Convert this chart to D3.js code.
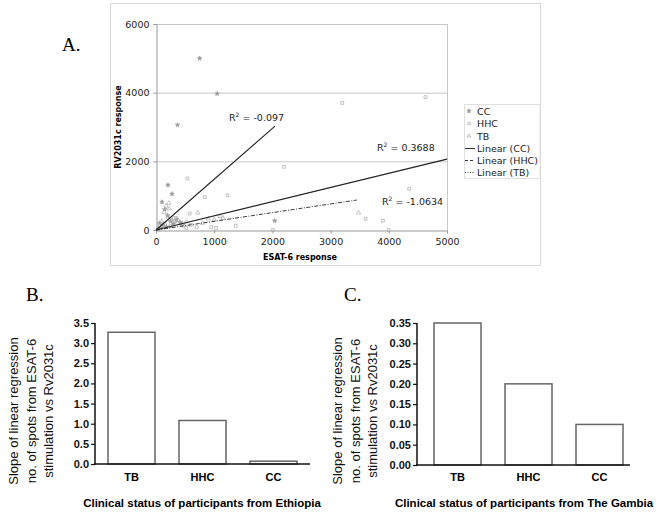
<!DOCTYPE html>
<html><head><meta charset="utf-8">
<script src="https://cdn.jsdelivr.net/npm/d3@7"></script>
<style>body{margin:0;background:#fff}svg{display:block}</style>
</head><body>
<svg id="c" width="664" height="514"></svg>
<script>
// ---------- Panel A data ----------
const ccPoints = [[750,5000],[1050,3970],[370,3060],[2040,270],[206,1310],[275,1050],[103,815],[150,600],[200,420],[60,200],[120,150],[250,250],[300,180],[80,60],[180,90],[350,300],[40,30],[420,220]];
const hhcPoints = [[3200,3700],[4630,3870],[4350,1200],[3600,330],[3900,270],[2200,1840],[540,1500],[840,960],[1230,1010],[1370,120],[1030,60],[950,80],[580,480],[200,390],[260,300],[330,250],[420,200],[150,180],[480,120],[100,100],[600,150],[700,80],[250,120],[350,350],[520,60],[2010,0],[4000,0]];
const tbPoints = [[720,500],[3480,500],[170,700],[220,780],[140,520],[230,620],[300,340],[380,280],[450,170],[100,250],[60,120],[520,240],[900,330],[1100,400],[1150,350],[1000,300],[800,200]];
const trendNames = ["Linear (CC)","Linear (HHC)","Linear (TB)"];
const trendSlopes = [1.48, 0.413, 0.253];
const trendXEnd = [2045, 5000, 3450];
const trendR2 = ["-0.097","0.3688","-1.0634"];
const xTicksA = [0,1000,2000,3000,4000,5000];
const yTicksA = [0,2000,4000,6000];
const legendSeries = ["CC","HHC","TB"];

// ---------- Panels B / C data ----------
const groups = ["TB","HHC","CC"];
const ethiopiaSlopes = [3.27, 1.08, 0.07];
const gambiaSlopes = [0.35, 0.20, 0.10];
const ethiopiaTicks = [0,0.5,1.0,1.5,2.0,2.5,3.0,3.5];
const gambiaTicks = [0,0.05,0.10,0.15,0.20,0.25,0.30,0.35];

const svg = d3.select("#c");

// ================= Panel A =================
const A = svg.append("g");
A.append("rect").attr("x",110.5).attr("y",3.5).attr("width",430).attr("height",262)
  .attr("fill","none").attr("stroke","#d9d9d9");
A.append("text").attr("x",62).attr("y",51).attr("font-family","Liberation Serif, serif")
  .attr("font-size",19).text("A.");

const xA = d3.scaleLinear().domain([0,5000]).range([156,447]);
const yA = d3.scaleLinear().domain([0,6000]).range([230,24]);
const fA = "DejaVu Sans, Verdana, sans-serif";

// gridlines
A.append("g").selectAll("line").data(yTicksA.filter(d=>d>0)).join("line")
  .attr("x1",xA(0)).attr("x2",xA(5000)).attr("y1",d=>yA(d)+0.5).attr("y2",d=>yA(d)+0.5)
  .attr("stroke","#c8c8c8");
A.append("line").attr("x1",xA(5000)+0.5).attr("x2",xA(5000)+0.5).attr("y1",yA(6000)).attr("y2",yA(0))
  .attr("stroke","#c8c8c8");

const axB = A.append("g").attr("transform",`translate(0,${yA(0)+0.5})`)
  .call(d3.axisBottom(xA).tickValues(xTicksA).tickSize(3).tickPadding(5).tickFormat(d3.format("d")));
const axL = A.append("g").attr("transform",`translate(${xA(0)+0.5},0)`)
  .call(d3.axisLeft(yA).tickValues(yTicksA).tickSize(3).tickPadding(4).tickFormat(d3.format("d")));
[axB,axL].forEach(g=>{
  g.selectAll("path,line").attr("stroke","#999");
  g.selectAll("text").attr("font-family",fA).attr("font-size",9.5).attr("fill","#222");
});

A.append("text").attr("transform",`translate(121,127) rotate(-90)`).attr("text-anchor","middle")
  .attr("font-family",fA).attr("font-size",8).attr("font-weight","bold").text("RV2031c response");
A.append("text").attr("x",300).attr("y",260).attr("text-anchor","middle")
  .attr("font-family",fA).attr("font-size",8).attr("font-weight","bold").text("ESAT-6 response");

// points
const sym = [d3.symbolStar, d3.symbolSquare, d3.symbolTriangle];
const symSize = [6, 8, 8];
const symFill = ["#999","none","none"];
const symStroke = ["#999","#aaa","#aaa"];
[ccPoints,hhcPoints,tbPoints].forEach((pts,i)=>{
  A.append("g").selectAll("path").data(pts).join("path")
    .attr("d",d3.symbol().type(sym[i]).size(symSize[i]))
    .attr("transform",d=>`translate(${xA(d[0])},${yA(d[1])})`)
    .attr("fill",symFill[i]).attr("stroke",symStroke[i]).attr("stroke-width",0.7);
});

// trend lines
const trendDash = [null, null, "4,1.5,1,1.5"];
const trendWidth = [1.1, 1.1, 0.9];
trendSlopes.forEach((s,i)=>{
  A.append("line").attr("x1",xA(0)).attr("y1",yA(0)).attr("x2",xA(trendXEnd[i])).attr("y2",yA(s*trendXEnd[i]))
    .attr("stroke","#222").attr("stroke-width",trendWidth[i]).attr("stroke-dasharray",trendDash[i]);
});
// R2 labels
const r2Pos = [[229,121],[377,151],[382,205]];
trendR2.forEach((r,i)=>{
  const t = A.append("text").attr("x",r2Pos[i][0]).attr("y",r2Pos[i][1])
    .attr("font-family",fA).attr("font-size",9.5).attr("fill","#222");
  t.append("tspan").text("R");
  t.append("tspan").attr("dy",-4).attr("font-size",6).text("2");
  t.append("tspan").attr("dy",4).text(" = "+r);
});

// legend
const L = A.append("g");
L.append("rect").attr("x",464.5).attr("y",104.5).attr("width",75.5).attr("height",74)
  .attr("fill","#fff").attr("stroke","#e0e0e0");
const legY = [111,123.5,136,148,160,172];
legendSeries.forEach((n,i)=>{
  L.append("path").attr("d",d3.symbol().type(sym[i]).size(6))
    .attr("transform",`translate(469,${legY[i]})`).attr("fill",symFill[i]).attr("stroke",symStroke[i]).attr("stroke-width",0.7);
  L.append("text").attr("x",477).attr("y",legY[i]+3.5).attr("font-family",fA).attr("font-size",9.5).attr("fill","#222").text(n);
});
const legDash = [null,"3,2","1,1.5"];
trendNames.forEach((n,i)=>{
  const y = legY[i+3];
  L.append("line").attr("x1",465).attr("x2",475).attr("y1",y+0.5).attr("y2",y+0.5)
    .attr("stroke","#333").attr("stroke-width",1).attr("stroke-dasharray",legDash[i]);
  L.append("text").attr("x",477).attr("y",y+3.5).attr("font-family",fA).attr("font-size",9.5).attr("fill","#222").text(n);
});

// ================= Bar panels =================
const fB = "Liberation Sans, Arial, sans-serif";
function barPanel(cfg){
  const g = svg.append("g");
  g.append("text").attr("x",cfg.letterX).attr("y",301).attr("font-family","Liberation Serif, serif")
    .attr("font-size",19).text(cfg.letter);
  const y = d3.scaleLinear().domain([0,cfg.max]).range([cfg.y0,323]);
  const x = d3.scalePoint().domain(groups).range([cfg.xc[0],cfg.xc[2]]);
  g.selectAll("rect").data(cfg.values).join("rect")
    .attr("x",(d,i)=>x(groups[i])-cfg.bw/2).attr("width",cfg.bw)
    .attr("y",d=>y(d)).attr("height",d=>cfg.y0-y(d))
    .attr("fill","#fff").attr("stroke","#666").attr("stroke-width",1.5);
  const ay = g.append("g").attr("transform",`translate(${cfg.ax},0)`)
    .call(d3.axisLeft(y).tickValues(cfg.ticks).tickSize(4).tickPadding(2).tickFormat(d3.format(cfg.fmt)));
  ay.select(".domain").remove();
  g.append("line").attr("x1",cfg.ax).attr("x2",cfg.ax).attr("y1",323).attr("y2",cfg.y0+1).attr("stroke","#111").attr("stroke-width",1.5);
  g.append("line").attr("x1",cfg.ax-1).attr("x2",cfg.axEnd).attr("y1",cfg.y0).attr("y2",cfg.y0).attr("stroke","#111").attr("stroke-width",1.5);
  ay.selectAll("line").attr("stroke","#111").attr("stroke-width",1.2);
  ay.selectAll("text").attr("font-family",fB).attr("font-size",11).attr("font-weight","bold").attr("fill","#111");
  g.selectAll(".xl").data(groups).join("text").attr("class","xl")
    .attr("x",d=>x(d)).attr("y",481).attr("text-anchor","middle")
    .attr("font-family",fB).attr("font-size",11).attr("font-weight","bold").text(d=>d);
  g.append("text").attr("x",cfg.titleX).attr("y",507).attr("text-anchor","middle")
    .attr("font-family",fB).attr("font-size",11.5).attr("font-weight","bold").text(cfg.title);
  const lines = ["Slope of linear regression","no. of spots from ESAT-6","stimulation vs Rv2031c"];
  lines.forEach((t,i)=>{
    g.append("text").attr("transform",`translate(${cfg.ytX+i*17.5},411) rotate(-90)`)
      .attr("text-anchor","middle").attr("font-family",fB).attr("font-size",13).attr("fill","#111").text(t);
  });
}
barPanel({letter:"B.",letterX:26,max:3.5,values:ethiopiaSlopes,ticks:ethiopiaTicks,fmt:".1f",
  y0:464,ax:95,axEnd:310,xc:[131.5,203,273.5],bw:47,title:"Clinical status of participants from Ethiopia",
  titleX:202,ytX:18});
barPanel({letter:"C.",letterX:344,max:0.35,values:gambiaSlopes,ticks:gambiaTicks,fmt:".2f",
  y0:465,ax:417,axEnd:630,xc:[457.5,529,599.5],bw:47,title:"Clinical status of participants from The Gambia",
  titleX:524,ytX:342});
</script>
</body></html>
